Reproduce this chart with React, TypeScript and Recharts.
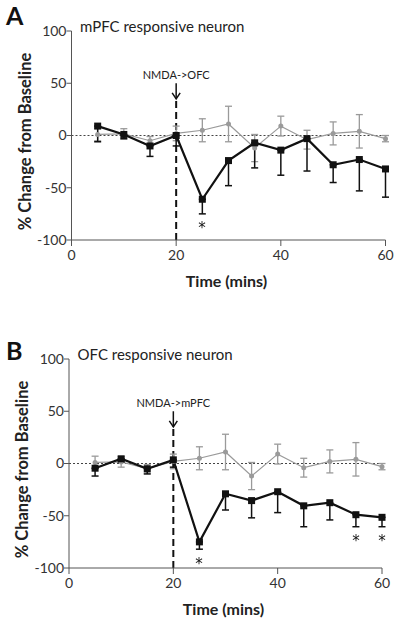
import React from 'react';
import { ComposedChart, Line, XAxis, YAxis, ErrorBar, ReferenceLine, ReferenceDot, Label } from 'recharts';

const times = [5, 10, 15, 20, 25, 30, 35, 40, 45, 50, 55, 60];
const ctrlMean = [1, 1.5, -5, 2, 5, 11, -12, 9, -4, 2, 4, -3];
const ctrlErr = [6, 5, 4, 7, 11, 17, 13, 9.5, 9, 11, 16, 3];
const aMean = [9, 1, -10, 0, -61, -24, -7, -14, -3, -28, -23, -32];
const aErr = [15, 4, 10, 10, 14, 24, 24, 24, 31, 17, 30, 27];
const bMean = [-4.5, 4.5, -5, 3.5, -75, -29, -35.5, -27, -40.5, -37.5, -49, -51.5];
const bErr = [7.5, 3, 5, 7, 7, 15.5, 16.5, 20, 20, 16.5, 11.5, 9];
const starsA = [25];
const starsB = [25, 55, 60];
const xTicks = [0, 20, 40, 60];
const yTicks = [-100, -50, 0, 50, 100];
const injectionTime = 20;
const arrowTop = 50;
const arrowBottom = 35;
const dashTop = 33;

const FONT = 'Lato, "DejaVu Sans", sans-serif';
const BLACK = '#111';
const GRAY = '#9a9a9a';
const AXIS = '#555';

const SquareDot = (p: any) => {
  const { cx, cy } = p;
  if (cx == null || cy == null) return <g key={p.key} />;
  return <rect key={p.key} x={cx - 3.5} y={cy - 3.5} width={7} height={7} fill={BLACK} />;
};

const GrayDot = (p: any) => {
  const { cx, cy } = p;
  if (cx == null || cy == null) return <g key={p.key} />;
  return <circle key={p.key} cx={cx} cy={cy} r={2.5} fill={GRAY} />;
};

const makeArrow = (label: string) => (p: any) => {
  const { x1, y1, x2, y2 } = p;
  return (
    <g>
      <line x1={x1} y1={y1} x2={x2} y2={y2} stroke={BLACK} strokeWidth={1.5} />
      <polyline points={`${x2 - 4},${y2 - 6} ${x2},${y2} ${x2 + 4},${y2 - 6}`} fill="none" stroke={BLACK} strokeWidth={1.5} />
      <text x={x1} y={y1 - 4} textAnchor="middle" fontSize={11} fontFamily={FONT} fill="#222">{label}</text>
    </g>
  );
};

const StarShape = (p: any) => {
  const { cx, cy } = p;
  return (
    <text
      x={Math.round(cx)}
      y={Math.round(cy + 9)}
      textAnchor="middle"
      fontSize={15}
      fontFamily='"DejaVu Sans"'
      fill="#111"
      style={{ filter: 'grayscale(1)' }}
    >
      *
    </text>
  );
};

type PanelProps = {
  mean: number[];
  err: number[];
  stars: number[];
  injLabel: string;
  title: string;
  letter: string;
  letterBaseline: number;
  top: number;
  height: number;
  yAxisWidth: number;
  margin: { top: number; right: number; bottom: number; left: number };
};

const Panel = ({ mean, err, stars, injLabel, title, letter, letterBaseline, top, height, yAxisWidth, margin }: PanelProps) => {
  const data = times.map((t, i) => ({
    t,
    ctrl: ctrlMean[i],
    ctrlErr: ctrlErr[i],
    val: mean[i],
    valErr: [err[i], 0],
  }));
  return (
    <div style={{ position: 'absolute', left: 0, top, width: 400, height }}>
      <ComposedChart width={400} height={height} data={data} margin={margin}>
        <XAxis
          dataKey="t"
          type="number"
          domain={[0, 60]}
          ticks={xTicks}
          height={50}
          stroke={AXIS}
          tickSize={6}
          tickMargin={4}
          tick={{ fill: '#333', fontSize: 14, fontFamily: FONT }}
        >
          <Label
            content={(lp: any) => {
              const vb = lp.viewBox;
              return (
                <text x={vb.x + vb.width / 2 - 2} y={vb.y + 47} textAnchor="middle" fontSize={16} fontWeight="bold" fontFamily={FONT} fill="#222">
                  Time (mins)
                </text>
              );
            }}
          />
        </XAxis>
        <YAxis
          type="number"
          domain={[-100, 100]}
          ticks={yTicks}
          width={yAxisWidth}
          stroke={AXIS}
          tickSize={5}
          tickMargin={0}
          interval={0}
          tick={{ fill: '#333', fontSize: 14, fontFamily: FONT }}
        >
          <Label
            content={(lp: any) => {
              const vb = lp.viewBox;
              const cx = vb.x + vb.width - 41;
              const cy = vb.y + vb.height / 2 + 6;
              return (
                <text transform={`rotate(-90 ${cx} ${cy})`} x={cx} y={cy} textAnchor="middle" fontSize={16.5} fontWeight="bold" fontFamily={FONT} fill="#222">
                  % Change from Baseline
                </text>
              );
            }}
          />
        </YAxis>
        <ReferenceLine y={0} stroke="#444" strokeDasharray="2 2" strokeWidth={1} />
        <ReferenceLine
          segment={[{ x: injectionTime, y: -100 }, { x: injectionTime, y: dashTop }]}
          stroke={BLACK}
          strokeWidth={2}
          strokeDasharray="7 4"
        />
        <ReferenceLine
          segment={[{ x: injectionTime, y: arrowTop }, { x: injectionTime, y: arrowBottom }]}
          shape={makeArrow(injLabel)}
        />
        <Line
          dataKey="ctrl"
          stroke={GRAY}
          strokeWidth={1.2}
          dot={GrayDot}
          activeDot={false}
          isAnimationActive={false}
        >
          <ErrorBar dataKey="ctrlErr" width={3.5} stroke={GRAY} strokeWidth={1.3} />
        </Line>
        <Line
          dataKey="val"
          stroke={BLACK}
          strokeWidth={2.2}
          dot={SquareDot}
          activeDot={false}
          isAnimationActive={false}
        >
          <ErrorBar dataKey="valErr" width={3.5} stroke={BLACK} strokeWidth={1.5} />
        </Line>
        {stars.map((s) => {
          const i = times.indexOf(s);
          return <ReferenceDot key={s} x={s} y={mean[i] - err[i] - 10} r={0} shape={StarShape} />;
        })}
      </ComposedChart>
      <svg width={400} height={60} style={{ position: 'absolute', left: 0, top: 0, pointerEvents: 'none' }}>
        <text x={6} y={letterBaseline} fontSize={25} fontWeight="bold" fontFamily={FONT} fill="#111">{letter}</text>
        <text x={yAxisWidth + 8.5} y={margin.top + 1} fontSize={15} fontFamily={FONT} fill="#222">{title}</text>
      </svg>
    </div>
  );
};

export default function App() {
  return (
    <div style={{ position: 'absolute', left: 0, top: 0, width: 400, height: 621, background: '#fff' }}>
      <Panel
        mean={aMean}
        err={aErr}
        stars={starsA}
        injLabel="NMDA->OFC"
        title="mPFC responsive neuron"
        letter="A"
        letterBaseline={25}
        top={0}
        height={310}
        yAxisWidth={71.5}
        margin={{ top: 31, right: 14.5, bottom: 20, left: 0 }}
      />
      <Panel
        mean={bMean}
        err={bErr}
        stars={starsB}
        injLabel="NMDA->mPFC"
        title="OFC responsive neuron"
        letter="B"
        letterBaseline={50}
        top={310}
        height={311}
        yAxisWidth={69}
        margin={{ top: 49, right: 18, bottom: 3, left: 0 }}
      />
    </div>
  );
}
